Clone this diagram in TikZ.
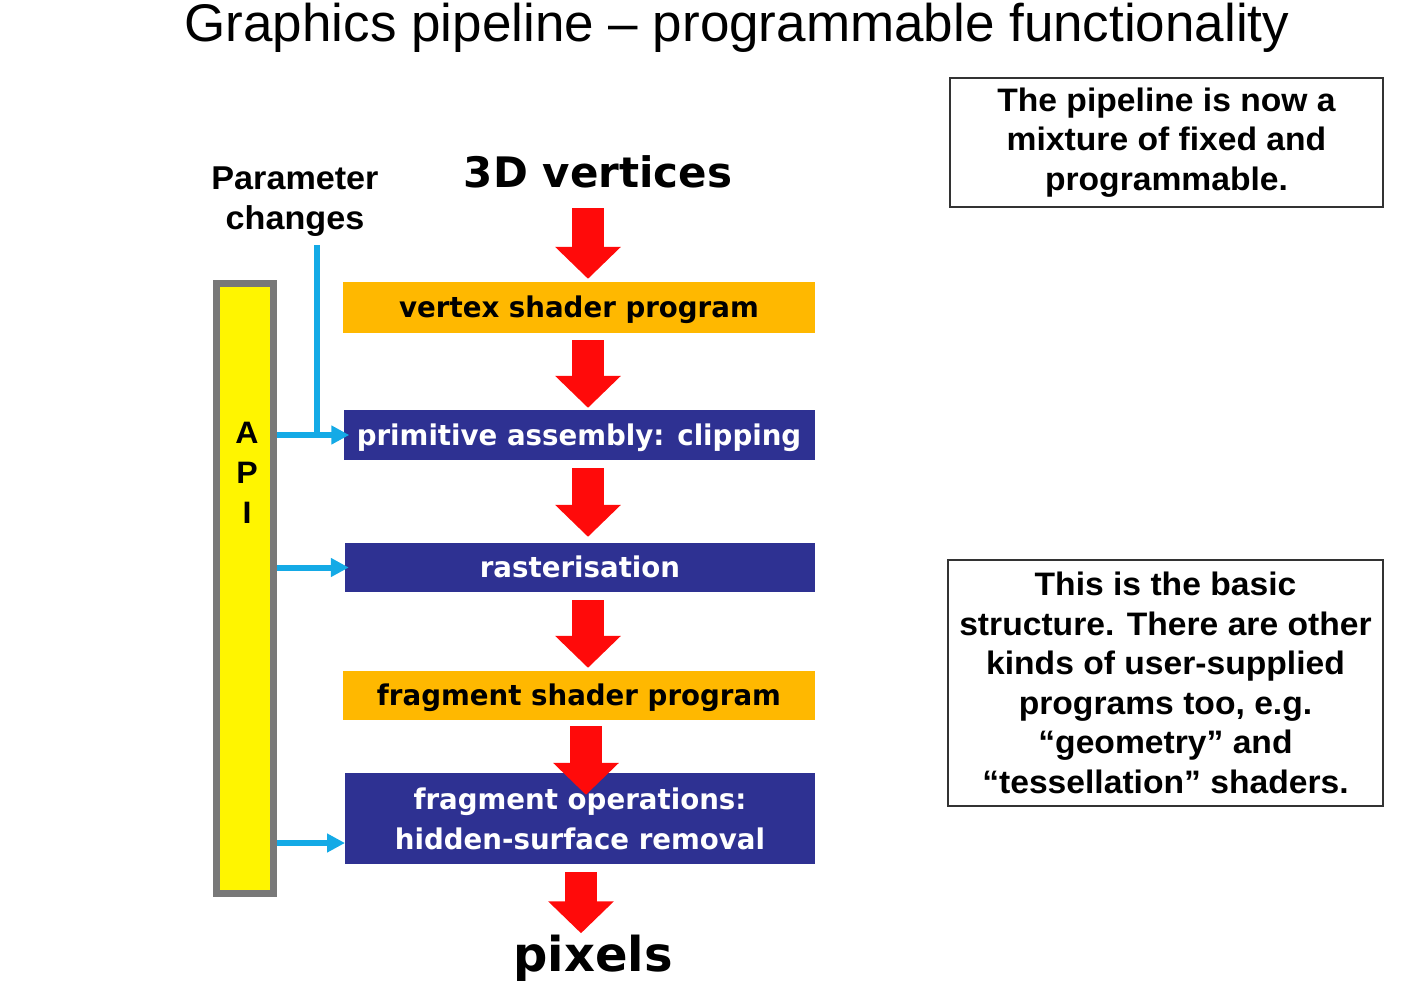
\documentclass[tikz,border=0pt]{standalone}
\usepackage{fontspec}
\setmainfont{DejaVu Sans}
\newfontfamily\titlefont{Liberation Sans}
\newfontfamily\notefont{Liberation Sans}[FakeStretch=1.035]
\newfontfamily\stagefont{DejaVu Sans}[FakeStretch=0.97]
\usetikzlibrary{arrows.meta}
\definecolor{stageorange}{RGB}{255,184,0}
\definecolor{stageblue}{RGB}{46,49,146}
\definecolor{apiyellow}{RGB}{255,245,0}
\definecolor{apigray}{RGB}{120,120,120}
\definecolor{cyanline}{RGB}{20,170,230}
\definecolor{arrowred}{RGB}{255,10,10}
\begin{document}
\begin{tikzpicture}[x=1pt,y=-1pt,
  stage/.style={rectangle,inner sep=0pt,minimum width=471pt,minimum height=50pt,font=\stagefont\fontsize{28.5}{40}\selectfont\bfseries,align=center},
  oneline/.style={text height=23pt,text depth=3pt},
  fixedstage/.style={stage,fill=stageblue,text=white},
  progstage/.style={stage,fill=stageorange,text=black},
  redarrow/.style={draw=arrowred,line width=32pt,-{Triangle[length=32pt,width=64pt,fill=arrowred]}},
  bluearrow/.style={draw=cyanline,line width=6pt,-{Triangle[length=18pt,width=18pt]}},
  noteb/.style={draw=black!80,line width=1.3pt,rectangle,inner sep=0pt,align=center,font=\notefont\fontsize{32.5}{39.5}\selectfont\bfseries},
  bigtext/.style={font=\fontsize{48}{50}\selectfont\bfseries},
  labeltext/.style={font=\notefont\fontsize{33}{40}\selectfont\bfseries,align=center}
]
\useasboundingbox (0,0) rectangle (1426,991);
\node[font=\titlefont\fontsize{53}{55}\selectfont] (title) at (737,28) {Graphics pipeline – programmable functionality};

\node[noteb,minimum width=433pt,minimum height=129pt] (note1) at (1166.5,142.5) {The pipeline is now a\\mixture of fixed and\\programmable.};
\node[noteb,minimum width=435pt,minimum height=246pt] (note2) at (1165.5,683) {This is the basic\\structure. There are other\\kinds of user-supplied\\programs too, e.g.\\“geometry” and\\“tessellation” shaders.};

\node[labeltext] (param) at (295,202) {Parameter\\changes};
\node[font=\fontsize{42}{45}\selectfont\bfseries] (vtx) at (598,172) {3D vertices};
\node[bigtext] (pix) at (593,958) {pixels};

\node[draw=apigray,fill=apiyellow,line width=7pt,minimum width=57pt,minimum height=610pt,inner sep=0pt] (api) at (245,588.5) {};
\node[labeltext,font=\notefont\fontsize{31}{40}\selectfont\bfseries] (apit) at (247,473) {A\\P\\I};

\node[progstage,oneline,minimum height=51pt,minimum width=472pt] (vs) at (579,307.5) {vertex shader program};
\node[fixedstage,oneline] (pa) at (579,435) {primitive assembly: clipping};
\node[fixedstage,oneline,minimum width=470pt,minimum height=49pt] (ra) at (580,567.5) {rasterisation};
\node[progstage,oneline,minimum width=472pt,minimum height=49pt] (fs) at (579,695.5) {fragment shader program};
\node[fixedstage,minimum width=470pt,minimum height=91pt] (fo) at (580,818.5) {fragment operations:\\hidden-surface removal};

\coordinate (ax1) at (588,208);
\coordinate (ax5) at (586,0);
\coordinate (ax6) at (581,0);
\draw[redarrow] (ax1) -- ([yshift=3pt]vs.north -| ax1);
\draw[redarrow] ([yshift=-7pt]vs.south -| ax1) -- ([yshift=2pt]pa.north -| ax1);
\draw[redarrow] ([yshift=-8pt]pa.south -| ax1) -- ([yshift=6pt]ra.north -| ax1);
\draw[redarrow] ([yshift=-8pt]ra.south -| ax1) -- ([yshift=3pt]fs.north -| ax1);
\draw[redarrow] ([yshift=-6pt]fs.south -| ax5) -- ([yshift=-22pt]fo.north -| ax5);
\draw[redarrow] ([yshift=-8pt]fo.south -| ax6) -- ([yshift=-2pt]pix.north -| ax6);

\coordinate (pc) at (317,245);
\coordinate (f3) at (345,843);
\draw[draw=cyanline,line width=6pt] (pc) -- (pc |- pa.west);
\draw[bluearrow] (api.east |- pa.west) -- ([xshift=6pt]pa.west);
\draw[bluearrow] (api.east |- ra.west) -- ([xshift=4pt]ra.west);
\draw[bluearrow] (api.east |- f3) -- (f3);
\end{tikzpicture}
\end{document}
